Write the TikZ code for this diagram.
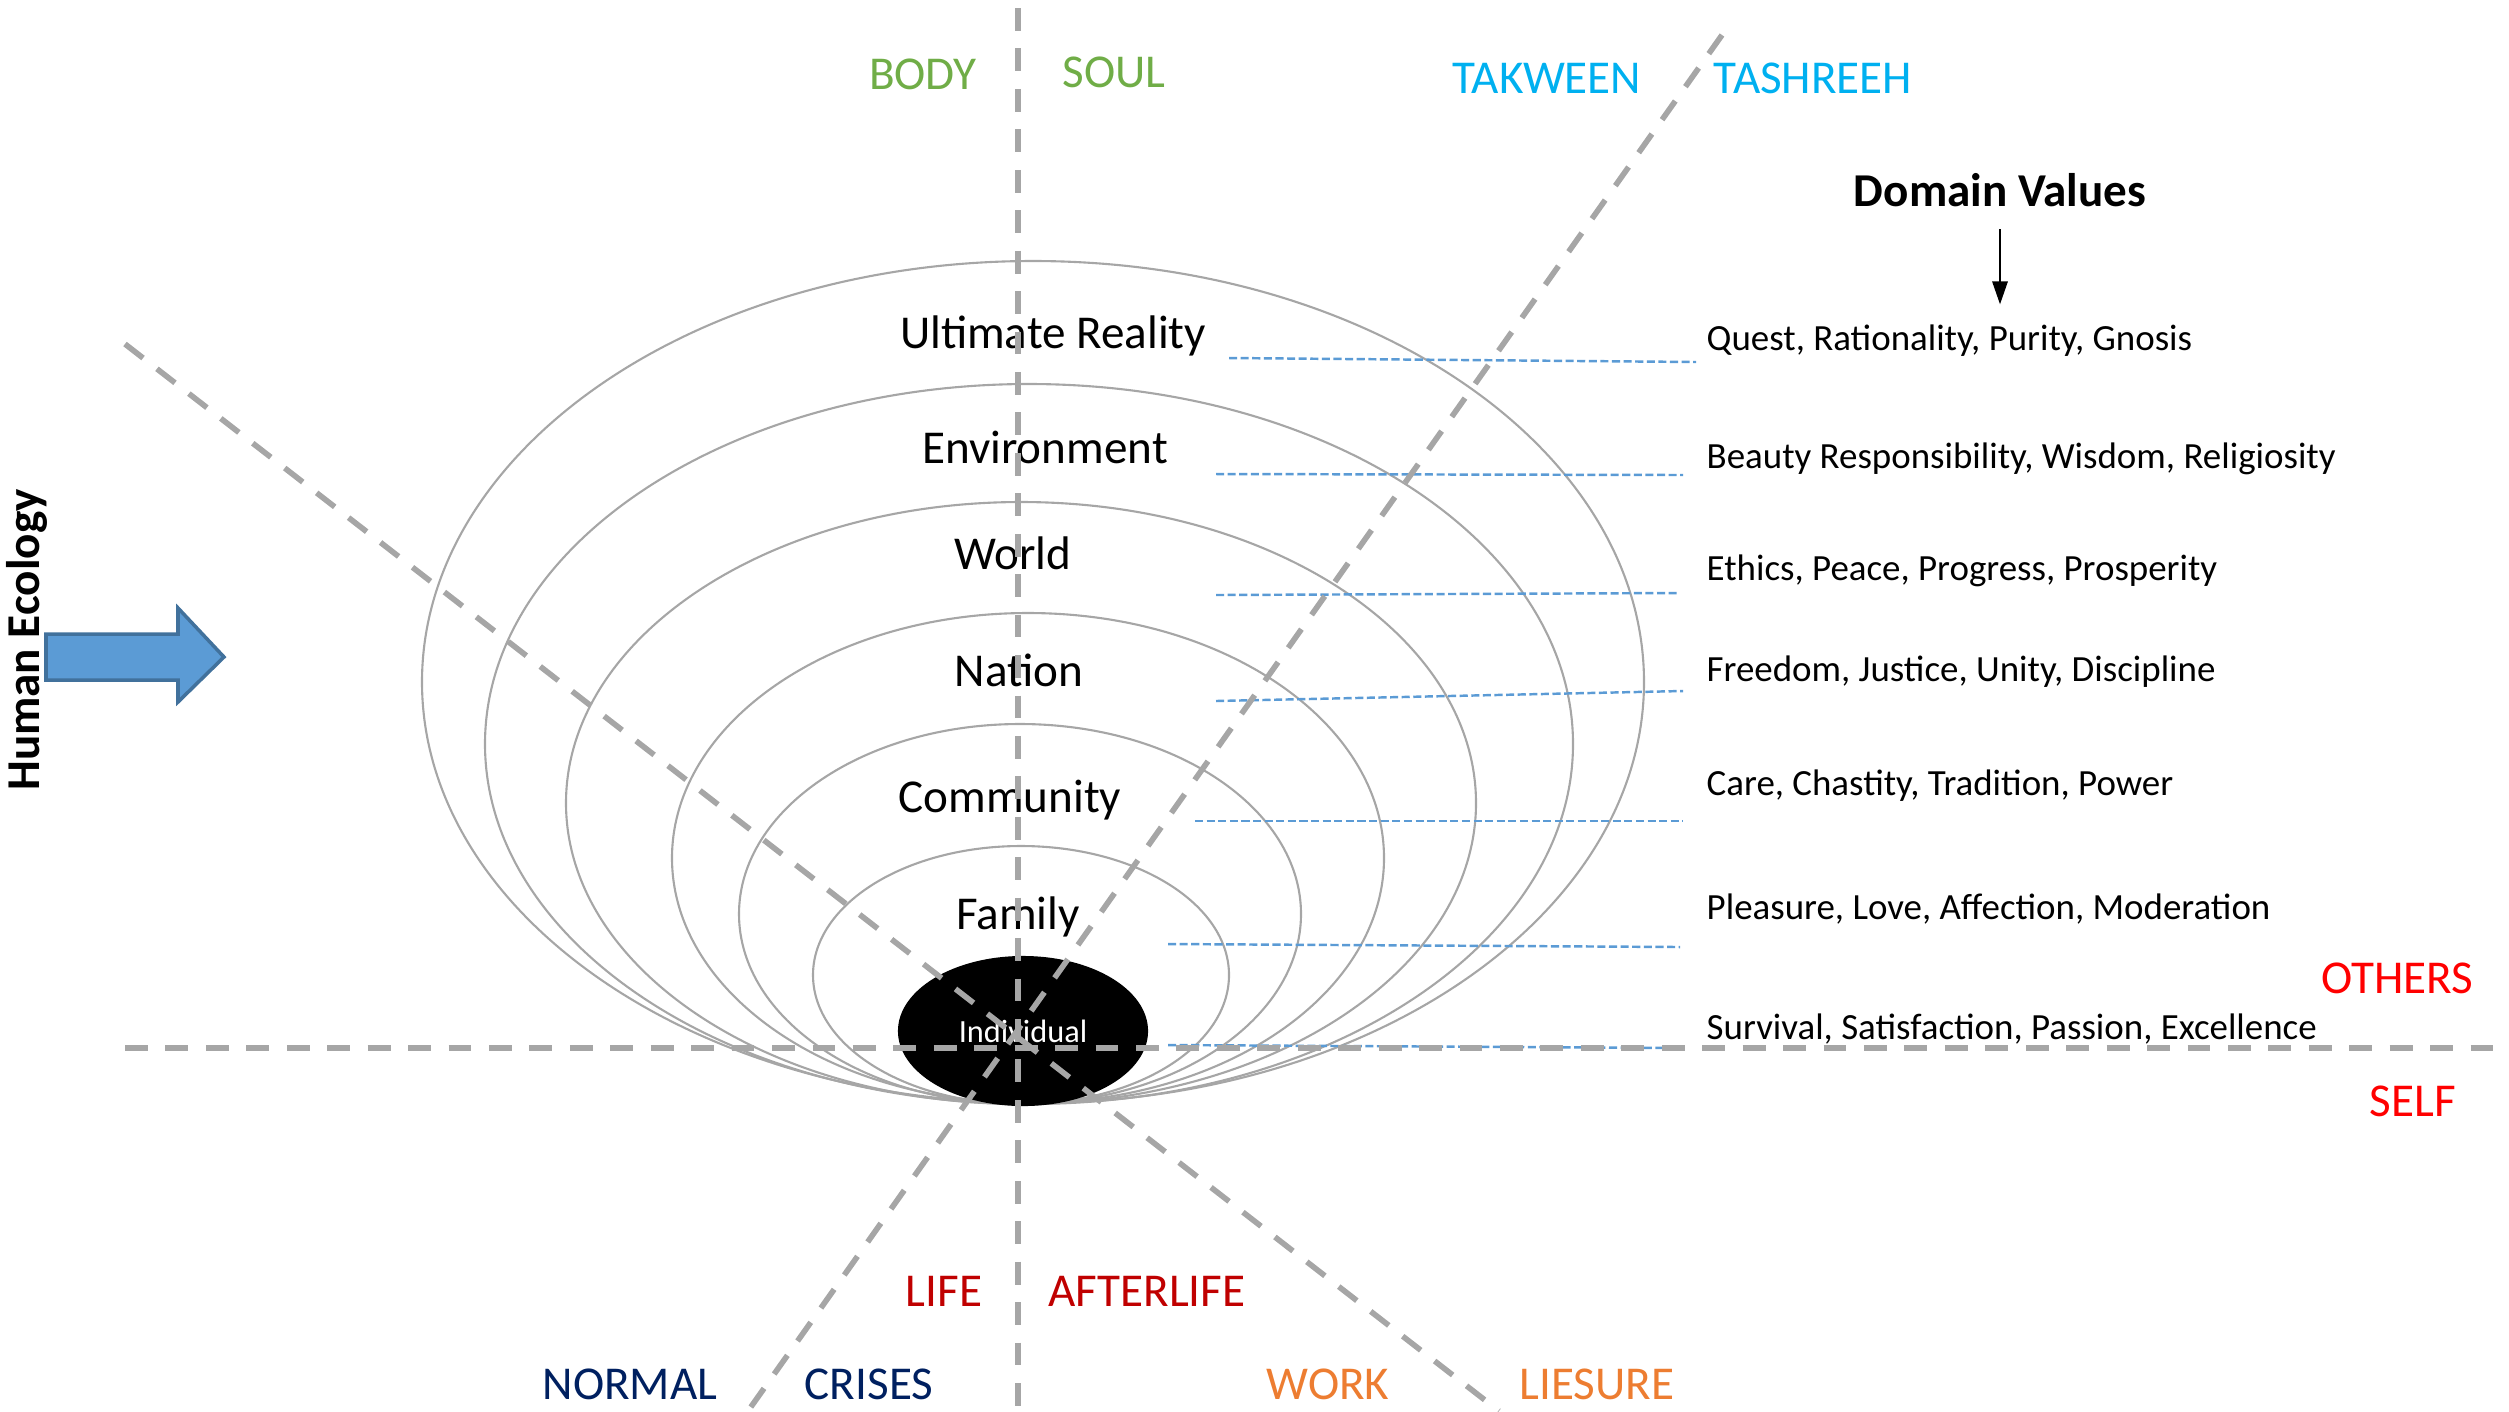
\documentclass[tikz,border=0pt]{standalone}
\usepackage{fontspec}
\setmainfont{Carlito}
\usetikzlibrary{arrows.meta, positioning, shapes.geometric}

\definecolor{guidegray}{HTML}{A6A6A6}
\definecolor{leaderblue}{HTML}{5B9BD5}
\definecolor{arrowedge}{HTML}{41719C}
\definecolor{soulgreen}{HTML}{70AD47}
\definecolor{lawcyan}{HTML}{00B0F0}
\definecolor{selfred}{HTML}{FF0000}
\definecolor{lifered}{HTML}{C00000}
\definecolor{crisisnavy}{HTML}{002060}
\definecolor{workorange}{HTML}{ED7D31}

\begin{document}
\begin{tikzpicture}[x=0.01cm, y=-0.01cm, >={Triangle[length=2.3mm, width=1.5mm]},
    ring/.style={draw=guidegray, line width=0.6pt},
    guide/.style={draw=guidegray, line width=1.6pt, dash pattern=on 6.5pt off 5pt},
    leader/.style={draw=leaderblue, line width=0.7pt, dash pattern=on 2.3pt off 1pt},
    level/.style={font=\fontsize{13.4}{16}\selectfont},
    value/.style={anchor=west, inner sep=0pt, font=\fontsize{10.5}{12.6}\selectfont},
    tag/.style={font=\fontsize{13.4}{16}\selectfont}]

  \useasboundingbox (0,0) rectangle (2509,1411);

  % Nested domains, all touching at the bottom
  \foreach \i/\cx/\cy/\rx/\ry in {1/1033/682/611/421, 2/1029/744/544/360,
      3/1021/803/455/301, 4/1028/858/356/245, 5/1020/914/281/190,
      6/1021/975/208/129} {
    \draw[ring] (\cx,\cy) ellipse [x radius=\rx, y radius=\ry];
  }
  \node[ellipse, fill=black, text=white, minimum width=2.5cm, minimum height=1.5cm,
        inner sep=0pt, font=\fontsize{9.2}{11}\selectfont] (indiv) at (1023,1031) {Individual};

  % Domain names
  \foreach \i/\x/\y/\t in {1/1053/336/Ultimate Reality, 2/1045/447/Environment,
      3/1013/553/World, 4/1019/670/Nation, 5/1010/800/Community, 6/1018/917/Family} {
    \node[level] (lvl\i) at (\x,\y) {\t};
  }

  % Values of each domain
  \foreach \i/\y/\t in {1/341/{Quest, Rationality, Purity, Gnosis},
      2/459/{Beauty Responsibility, Wisdom, Religiosity},
      3/571/{Ethics, Peace, Progress, Prosperity},
      4/672/{Freedom, Justice, Unity, Discipline},
      5/786/{Care, Chastity, Tradition, Power},
      6/909/{Pleasure, Love, Affection, Moderation},
      7/1029/{Survival, Satisfaction, Passion, Excellence}} {
    \node[value] (val\i) at (1706,\y) {\t};
  }

  % Leaders from domains to values
  \foreach \i/\xa/\ya/\xb/\yb in {1/1229/358/1696/362, 2/1216/474/1683/475,
      3/1216/595/1680/593, 4/1216/701/1683/691, 5/1195/821/1683/821,
      6/1168/944/1680/947, 7/1168/1045/1680/1048} {
    \coordinate (ls\i) at (\xa,\ya);
    \coordinate (le\i) at (\xb,\yb);
    \draw[leader] (ls\i) -- (le\i);
  }

  \node[font=\bfseries\fontsize{13.4}{16}\selectfont] (dv) at (2000,190) {Domain Values};
  \draw[->, line width=0.8pt, shorten <=1mm, shorten >=2mm] (dv.south) -- (dv.south |- val1.north);

  % Axes of the model
  \coordinate (top) at (1018,8);
  \coordinate (bot) at (1018,1411);
  \coordinate (west) at (125,1048);
  \coordinate (east) at (2500,1048);
  \coordinate (ne) at (1722,35);
  \coordinate (sw) at (748,1411);
  \coordinate (nw) at (125,344);
  \coordinate (se) at (1499,1411);
  \draw[guide] (top) -- (bot);
  \draw[guide] (west) -- (east);
  \draw[guide] (ne) -- (sw);
  \draw[guide] (nw) -- (se);

  % Pairs on each axis
  \node[tag, text=soulgreen] (body) at (923,74) {BODY};
  \node[tag, text=soulgreen] (soul) at (1114,72) {SOUL};
  \node[tag, text=lawcyan] (takween) at (1547,78) {TAKWEEN};
  \node[tag, text=lawcyan] (tashreeh) at (1813,78) {TASHREEH};
  \node[tag, text=selfred] (others) at (2397,978) {OTHERS};
  \node[tag, text=selfred] (self) at (2413,1101) {SELF};
  \node[tag, text=lifered] (life) at (944,1291) {LIFE};
  \node[tag, text=lifered] (afterlife) at (1147,1291) {AFTERLIFE};
  \node[tag, text=crisisnavy] (normal) at (630,1384) {NORMAL};
  \node[tag, text=crisisnavy] (crises) at (869,1384) {CRISES};
  \node[tag, text=workorange] (work) at (1328,1384) {WORK};
  \node[tag, text=workorange] (leisure) at (1597,1384) {LIESURE};

  % Human ecology arrow
  \node[rotate=90, font=\bfseries\fontsize{13.4}{16}\selectfont] (eco) at (27,640) {Human Ecology};
  \draw[draw=arrowedge, fill=leaderblue, line width=1pt]
    (46,634) -- (178,634) -- (178,608) -- (224,657) -- (178,702) -- (178,680) -- (46,680) -- cycle;
\end{tikzpicture}
\end{document}
